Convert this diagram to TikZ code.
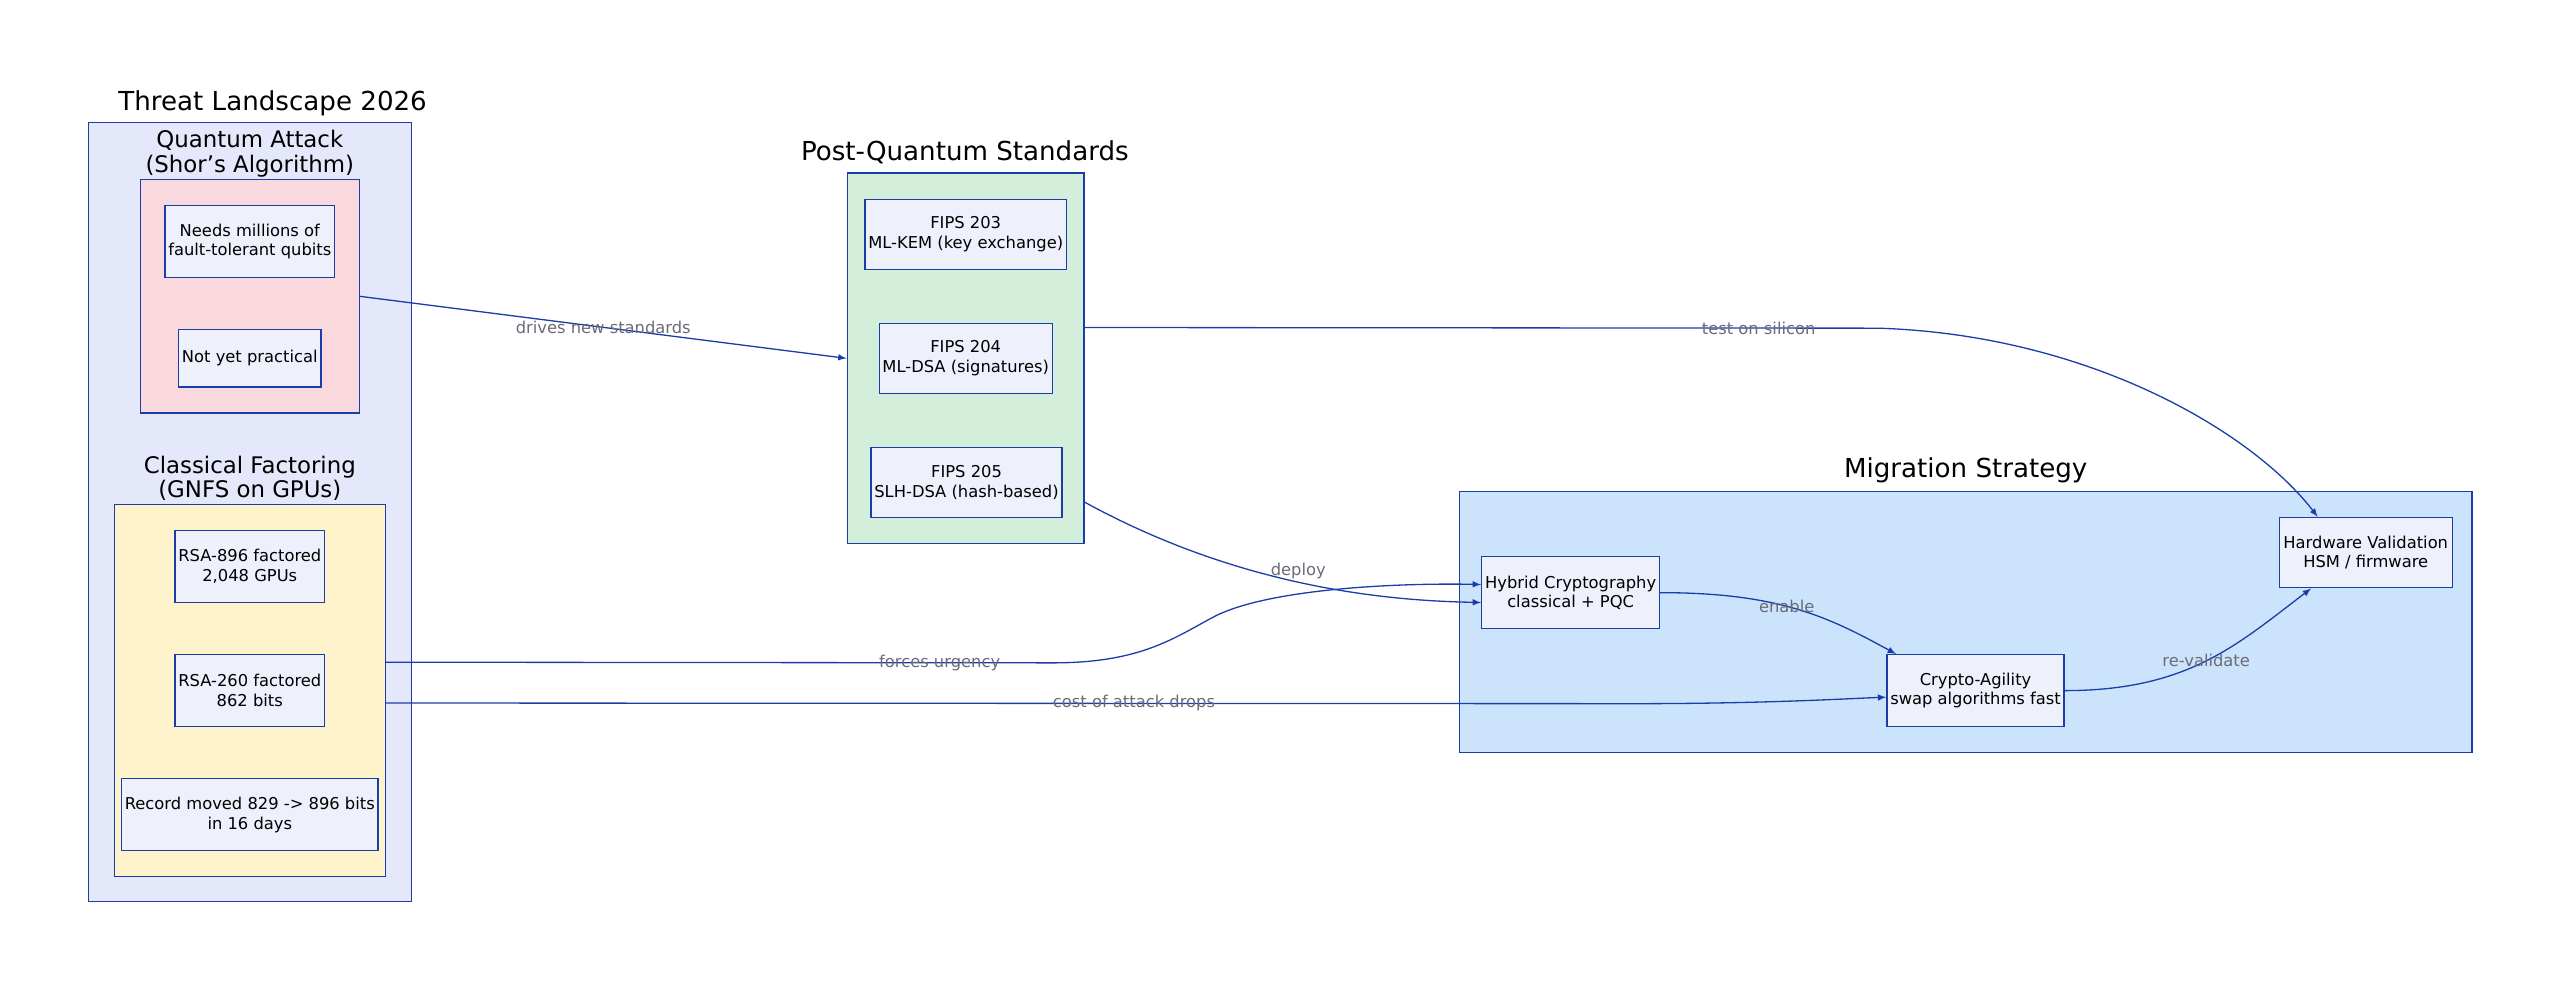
\documentclass[tikz,border=0pt]{standalone}
\usepackage{fontspec}
\setmainfont{DejaVu Sans}
\usetikzlibrary{positioning,arrows,calc}
\definecolor{edgeblue}{HTML}{1A3EA8}
\definecolor{nodefill}{HTML}{EEF0FB}
\definecolor{threatfill}{HTML}{E5E8FB}
\definecolor{quantfill}{HTML}{F9D9DE}
\definecolor{classfill}{HTML}{FFF3CC}
\definecolor{pqfill}{HTML}{D4EEDC}
\definecolor{migfill}{HTML}{CCE4FB}
\definecolor{labelgray}{HTML}{6B6B78}
\tikzset{
    >=latex,
    font={\fontsize{10pt}{12}\selectfont},
    group/.style={rectangle, draw=edgeblue, thick, inner sep=0pt},
    grouptitle/.style={align=center, font={\fontsize{16pt}{17}\selectfont}},
    element/.style={rectangle, draw=edgeblue, thick, fill=nodefill,
                    align=center, inner sep=2pt},
    line/.style={draw=edgeblue, thick, ->},
    edgelabel/.style={text=labelgray, font={\fontsize{10pt}{12}\selectfont}},
}
\begin{document}
\begin{tikzpicture}[x=1pt, y=-1pt]
    \useasboundingbox (0,0) rectangle (1568,607);

    % Groups
    \node[group, fill=threatfill, minimum width=198pt, minimum height=477pt] (threat) at (153,313.5) {};
    \node[grouptitle] at (167,63) {Threat Landscape 2026};
    \node[group, fill=quantfill, minimum width=134pt, minimum height=143pt] (quantum) at (153,181.5) {};
    \node[grouptitle, font={\fontsize{14pt}{15}\selectfont}] at (153,94) {Quantum Attack\\(Shor's Algorithm)};
    \node[group, fill=classfill, minimum width=166pt, minimum height=228pt] (classical) at (153,423) {};
    \node[grouptitle, font={\fontsize{14pt}{15}\selectfont}] at (153,293) {Classical Factoring\\(GNFS on GPUs)};
    \node[group, fill=pqfill, minimum width=145pt, minimum height=227pt] (pq) at (591.5,219.5) {};
    \node[grouptitle] at (591,93) {Post-Quantum Standards};
    \node[group, fill=migfill, minimum width=620pt, minimum height=160pt] (mig) at (1204,381) {};
    \node[grouptitle] at (1204,288) {Migration Strategy};

    % Elements
    \node[element, minimum width=102pt, minimum height=44pt] (qubits) at (153,148) {Needs millions of\\fault-tolerant qubits};
    \node[element, minimum width=86pt, minimum height=35pt] (practical) at (153,219.5) {Not yet practical};
    \node[element, minimum width=90pt, minimum height=44pt] (rsa896) at (153,347) {RSA-896 factored\\2,048 GPUs};
    \node[element, minimum width=90pt, minimum height=44pt] (rsa260) at (153,423) {RSA-260 factored\\862 bits};
    \node[element, minimum width=134pt, minimum height=44pt] (record) at (153,499) {Record moved 829 -> 896 bits\\in 16 days};
    \node[element, minimum width=113pt, minimum height=43pt] (fips203) at (591.5,143.5) {FIPS 203\\ML-KEM (key exchange)};
    \node[element, minimum width=99pt, minimum height=43pt] (fips204) at (591.5,219.5) {FIPS 204\\ML-DSA (signatures)};
    \node[element, minimum width=108pt, minimum height=43pt] (fips205) at (592,295.5) {FIPS 205\\SLH-DSA (hash-based)};
    \node[element, minimum width=104pt, minimum height=44pt] (hybrid) at (962,363) {Hybrid Cryptography\\classical + PQC};
    \node[element, minimum width=104pt, minimum height=44pt] (agility) at (1210,423) {Crypto-Agility\\swap algorithms fast};
    \node[element, minimum width=106pt, minimum height=43pt] (hardware) at (1449,338.5) {Hardware Validation\\HSM / firmware};

    % Connectors
    \draw[line] (quantum.east) -- node[edgelabel, pos=0.5] {drives new standards} (pq.west);
    \draw[line] ($(pq.north east)+(0,95)$) -- (1150,201)
        node[edgelabel, pos=0.85] {test on silicon}
        .. controls (1280,205) and (1380,265) .. ($(hardware.north west)+(24,0)$);
    \draw[line] ($(pq.north east)+(0,202)$) .. controls (760,360) and (850,368) ..
        node[edgelabel, pos=0.48, above=-2pt] {deploy} ($(hybrid.west)+(0,6)$);
    \draw[line] ($(classical.north east)+(0,97)$) -- (645,406)
        node[edgelabel, pos=0.83] {forces urgency}
        .. controls (700,406) and (720,390) .. (745,377)
        .. controls (780,360) and (860,357) .. ($(hybrid.west)+(0,-5)$);
    \draw[line] ($(classical.north east)+(0,122)$) -- (1000,431)
        node[edgelabel, pos=0.6] {cost of attack drops}
        .. controls (1080,431) and (1130,428) .. ($(agility.west)+(0,4)$);
    \draw[line] (hybrid.east) .. controls (1090,363) and (1120,378) ..
        node[edgelabel, pos=0.45] {enable} ($(agility.north west)+(6,0)$);
    \draw[line] (agility.east) .. controls (1340,423) and (1370,395) ..
        node[edgelabel, pos=0.5] {re-validate} ($(hardware.south west)+(20,0)$);
\end{tikzpicture}
\end{document}
